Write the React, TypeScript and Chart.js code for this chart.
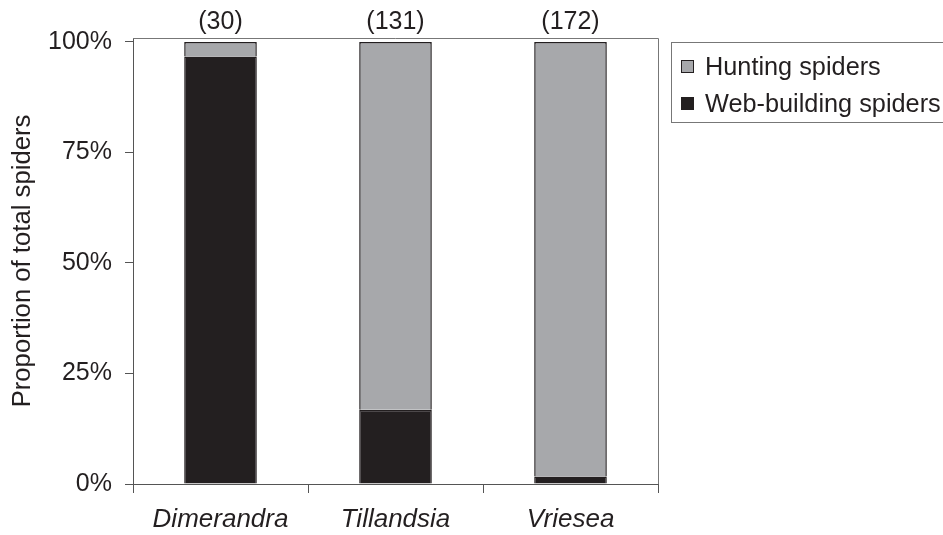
import React, { useEffect, useRef } from "react";
import { Chart, registerables } from "chart.js";

Chart.register(...registerables);

const categories = ["Dimerandra", "Tillandsia", "Vriesea"];
const sampleSizes = ["(30)", "(131)", "(172)"];
const webBuilding = [0.967, 0.168, 0.017];
const hunting = [0.033, 0.832, 0.983];
const yTicks = [0, 0.25, 0.5, 0.75, 1];
const seriesNames = ["Hunting spiders", "Web-building spiders"];
const seriesColors = ["#a7a8ab", "#231f20"];

const FONT = '"Liberation Sans", Arial, Helvetica, sans-serif';
const AXIS = "#555555";
const FRAME = "#777777";
const INK = "#231f20";

const framePlugin = {
  id: "frame",
  beforeDatasetsDraw(chart: any) {
    const { ctx, chartArea } = chart;
    ctx.save();
    ctx.strokeStyle = FRAME;
    ctx.lineWidth = 1;
    ctx.beginPath();
    ctx.moveTo(chartArea.left, Math.round(chartArea.top) + 0.5);
    ctx.lineTo(Math.round(chartArea.right) + 0.5, Math.round(chartArea.top) + 0.5);
    ctx.lineTo(Math.round(chartArea.right) + 0.5, chartArea.bottom);
    ctx.stroke();
    ctx.restore();
  },
};

const countsPlugin = {
  id: "counts",
  afterDatasetsDraw(chart: any) {
    const { ctx, chartArea } = chart;
    const xs = chart.scales.x;
    ctx.save();
    ctx.fillStyle = INK;
    ctx.font = `25px ${FONT}`;
    ctx.textAlign = "center";
    ctx.textBaseline = "middle";
    sampleSizes.forEach((s, i) => {
      ctx.fillText(s, xs.getPixelForValue(i), chartArea.top - 16);
    });
    ctx.restore();
  },
};

export default function App() {
  const ref = useRef<HTMLCanvasElement | null>(null);

  useEffect(() => {
    if (!ref.current) return;
    const chart = new Chart(ref.current, {
      type: "bar",
      data: {
        labels: categories,
        datasets: [
          {
            label: seriesNames[1],
            data: webBuilding,
            backgroundColor: seriesColors[1],
            borderColor: INK,
            borderWidth: 1.5,
            categoryPercentage: 1,
            barPercentage: 0.415,
          },
          {
            label: seriesNames[0],
            data: hunting,
            backgroundColor: seriesColors[0],
            borderColor: INK,
            borderWidth: 1.5,
            categoryPercentage: 1,
            barPercentage: 0.415,
          },
        ],
      },
      options: {
        responsive: false,
        animation: false,
        devicePixelRatio: 1,
        layout: { padding: { left: 0, right: 285, top: 38, bottom: 0 } },
        plugins: {
          legend: { display: false },
          tooltip: { enabled: false },
          title: { display: false },
        },
        scales: {
          x: {
            stacked: true,
            afterFit: (s: any) => {
              s.height = 51;
            },
            border: { display: true, color: AXIS, width: 1 },
            grid: {
              display: true,
              offset: true,
              drawOnChartArea: false,
              drawTicks: true,
              tickLength: 9,
              color: AXIS,
            },
            ticks: {
              color: INK,
              padding: 11,
              font: { family: FONT, size: 26, style: "italic" },
            },
          },
          y: {
            stacked: true,
            min: 0,
            max: 1.009,
            afterFit: (s: any) => {
              s.width = 133;
            },
            afterBuildTicks: (s: any) => {
              s.ticks = yTicks.map((v) => ({ value: v }));
            },
            border: { display: true, color: AXIS, width: 1 },
            grid: {
              display: true,
              drawOnChartArea: false,
              drawTicks: true,
              tickLength: 8,
              color: AXIS,
            },
            ticks: {
              color: INK,
              padding: 13,
              font: { family: FONT, size: 25 },
              callback: (v: any) => `${Math.round(Number(v) * 100)}%`,
            },
            title: {
              display: true,
              text: "Proportion of total spiders",
              color: INK,
              padding: { top: 7, bottom: 0 },
              font: { family: FONT, size: 25.7 },
            },
          },
        },
      },
      plugins: [framePlugin, countsPlugin],
    });
    return () => chart.destroy();
  }, []);

  const legendItems = [
    { name: seriesNames[0], color: seriesColors[0], y: 23 },
    { name: seriesNames[1], color: seriesColors[1], y: 60 },
  ];

  return (
    <div
      style={{
        position: "absolute",
        left: 0,
        top: 0,
        width: 943,
        height: 535,
        overflow: "hidden",
        background: "#ffffff",
      }}
    >
      <canvas ref={ref} width={943} height={535} style={{ display: "block" }} />
      <div
        style={{
          position: "absolute",
          left: 671,
          top: 42,
          width: 320,
          height: 79,
          border: `1px solid ${FRAME}`,
          fontFamily: FONT,
          fontSize: 25.3,
          color: INK,
        }}
      >
        {legendItems.map((it) => (
          <div
            key={it.name}
            style={{
              position: "absolute",
              left: 9,
              top: it.y - 15,
              height: 30,
              lineHeight: "30px",
              whiteSpace: "nowrap",
              display: "flex",
              alignItems: "center",
            }}
          >
            <span
              style={{
                display: "inline-block",
                width: 11,
                height: 11,
                background: it.color,
                border: `1px solid ${INK}`,
                marginRight: 11,
              }}
            />
            <span>{it.name}</span>
          </div>
        ))}
      </div>
    </div>
  );
}
